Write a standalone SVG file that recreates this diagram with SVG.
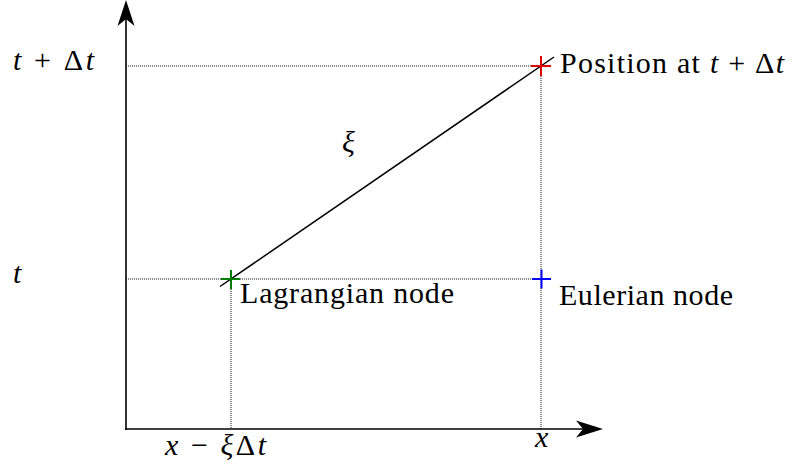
<svg xmlns="http://www.w3.org/2000/svg" width="795" height="466" viewBox="0 0 795 466">
<style>
.dot{stroke:#000;stroke-width:0.9;stroke-dasharray:1 1;fill:none}
.axis{stroke:#000;stroke-width:1.6;fill:none}
.plus{stroke-width:2;fill:none}
</style>
<rect width="795" height="466" fill="#fff"/>
<g id="connectors">
<line class="dot" x1="126" y1="66" x2="541" y2="66"/>
<line class="dot" x1="126" y1="279" x2="541" y2="279"/>
<line class="dot" x1="231" y1="279" x2="231" y2="429"/>
<line class="dot" x1="541" y1="66" x2="541" y2="429"/>
<line class="axis" x1="126" y1="430" x2="126" y2="14"/>
<line class="axis" x1="125" y1="429" x2="590" y2="429"/>
<path d="M126,0 L134.5,26 L126,19 L117.5,26 Z" fill="#000"/>
<path d="M603,429 L576,420.5 L583,429 L576,437.5 Z" fill="#000"/>
<line x1="220" y1="286.5" x2="554" y2="57" stroke="#000" stroke-width="1.5"/>
</g>
<g id="position-node">
<path class="plus" stroke="#e00000" d="M531,66 H551 M541,56 V76"/>
<text x="560" y="73" font-family="Liberation Serif" font-size="30" textLength="224" lengthAdjust="spacing">Position at <tspan font-style="italic">t</tspan> + Δ<tspan font-style="italic">t</tspan></text>
</g>
<g id="lagrangian-node">
<path class="plus" stroke="#008000" d="M221,279 H240 M231,270 V289"/>
<text x="240" y="303" font-family="Liberation Serif" font-size="30" textLength="214" lengthAdjust="spacing">Lagrangian node</text>
</g>
<g id="eulerian-node">
<path class="plus" stroke="#0000ff" d="M532,279 H551 M541.5,269.5 V288.5"/>
<text x="559" y="305" font-family="Liberation Serif" font-size="30" textLength="174" lengthAdjust="spacing">Eulerian node</text>
</g>
<g id="labels">
<text x="13" y="70" font-family="Liberation Serif" font-size="30" textLength="81" lengthAdjust="spacing"><tspan font-style="italic">t</tspan> + Δ<tspan font-style="italic">t</tspan></text>
<text x="13" y="283" font-family="Liberation Serif" font-size="30" font-style="italic">t</text>
<text x="342" y="152" font-family="Liberation Serif" font-size="30" font-style="italic">ξ</text>
<text x="165" y="455" font-family="Liberation Serif" font-size="30" textLength="101" lengthAdjust="spacing"><tspan font-style="italic">x</tspan> − <tspan font-style="italic">ξ</tspan>Δ<tspan font-style="italic">t</tspan></text>
<text x="535" y="447" font-family="Liberation Serif" font-size="30" font-style="italic">x</text>
</g>
</svg>
